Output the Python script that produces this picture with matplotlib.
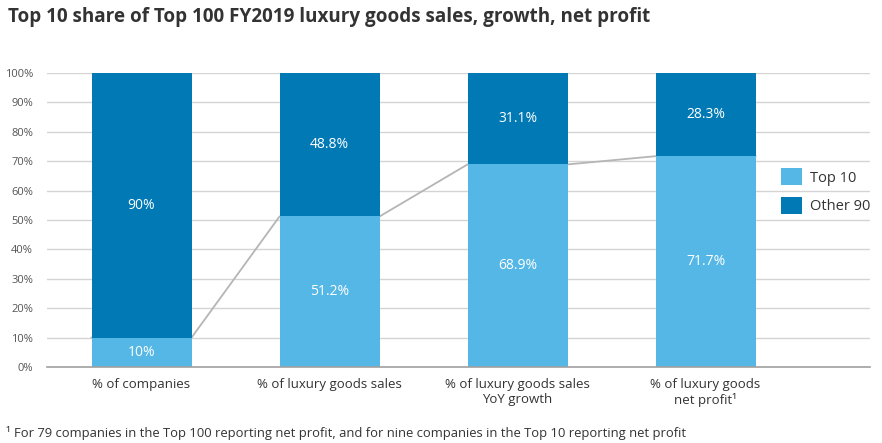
import matplotlib.pyplot as plt
import numpy as np

plt.rcParams['font.family'] = ['Open Sans', 'DejaVu Sans']

categories = ['% of companies', '% of luxury goods sales',
              '% of luxury goods sales\nYoY growth', '% of luxury goods\nnet profit\u00b9']
top10 = [10, 51.2, 68.9, 71.7]
other90 = [90, 48.8, 31.1, 28.3]
top10_labels = ['10%', '51.2%', '68.9%', '71.7%']
other90_labels = ['90%', '48.8%', '31.1%', '28.3%']
yticks = [0, 10, 20, 30, 40, 50, 60, 70, 80, 90, 100]

c_top = '#55b7e6'
c_other = '#0079b5'
w = 0.532

fig = plt.figure(figsize=(8.82, 4.43), dpi=100)
ax = fig.add_axes([47/882, 1-367/443, (870-47)/882, (367-73)/443])

x = np.arange(len(categories))
for yv in yticks[1:]:
    ax.axhline(yv, color='#d4d4d4', lw=1, zorder=0)

# connector line between the top edges of the Top 10 bars
lx, ly = [], []
for i, v in enumerate(top10):
    lx += [i - w/2, i + w/2]
    ly += [v, v]
ax.plot(lx, ly, color='#b5b5b5', lw=1.3, zorder=1)

ax.bar(x, top10, w, color=c_top, zorder=2, label='Top 10')
ax.bar(x, other90, w, bottom=top10, color=c_other, zorder=2, label='Other 90')

for i in range(len(x)):
    ax.text(x[i], top10[i] / 2, top10_labels[i], ha='center', va='center',
            color='white', fontsize=10, zorder=3)
    ax.text(x[i], top10[i] + other90[i] / 2, other90_labels[i], ha='center', va='center',
            color='white', fontsize=10, zorder=3)

ax.set_xlim(-0.503, 3.875)
ax.set_ylim(0, 100)
ax.set_yticks(yticks)
ax.set_yticklabels([f'{v}%' for v in yticks], fontsize=8, color='#555555')
ax.set_xticks(x)
ax.set_xticklabels(categories, fontsize=9.5, color='#333333', linespacing=1.2)
ax.tick_params(axis='both', length=0)
ax.tick_params(axis='y', pad=10)
ax.tick_params(axis='x', pad=8)
for s in ['top', 'right', 'left']:
    ax.spines[s].set_visible(False)
ax.spines['bottom'].set_color('#a0a0a0')
ax.spines['bottom'].set_linewidth(1.2)

leg = ax.legend(loc='upper left', frameon=False, fontsize=10.5,
                handlelength=1.45, handleheight=1.45, handletextpad=0.55, labelspacing=0.75)
leg.set_bbox_to_anchor((768/882, 1 - 155/443), transform=fig.transFigure)
for t in leg.get_texts():
    t.set_color('#333333')

fig.text(8/882, 1 - 17/443, 'Top 10 share of Top 100 FY2019 luxury goods sales, growth, net profit',
         fontsize=13.6, fontweight='bold', color='#333333', va='center', ha='left')
fig.text(6/882, 1 - 433/443,
         '\u00b9 For 79 companies in the Top 100 reporting net profit, and for nine companies in the Top 10 reporting net profit',
         fontsize=9.4, color='#333333', va='center', ha='left')

fig.savefig('out.png', dpi=100)
